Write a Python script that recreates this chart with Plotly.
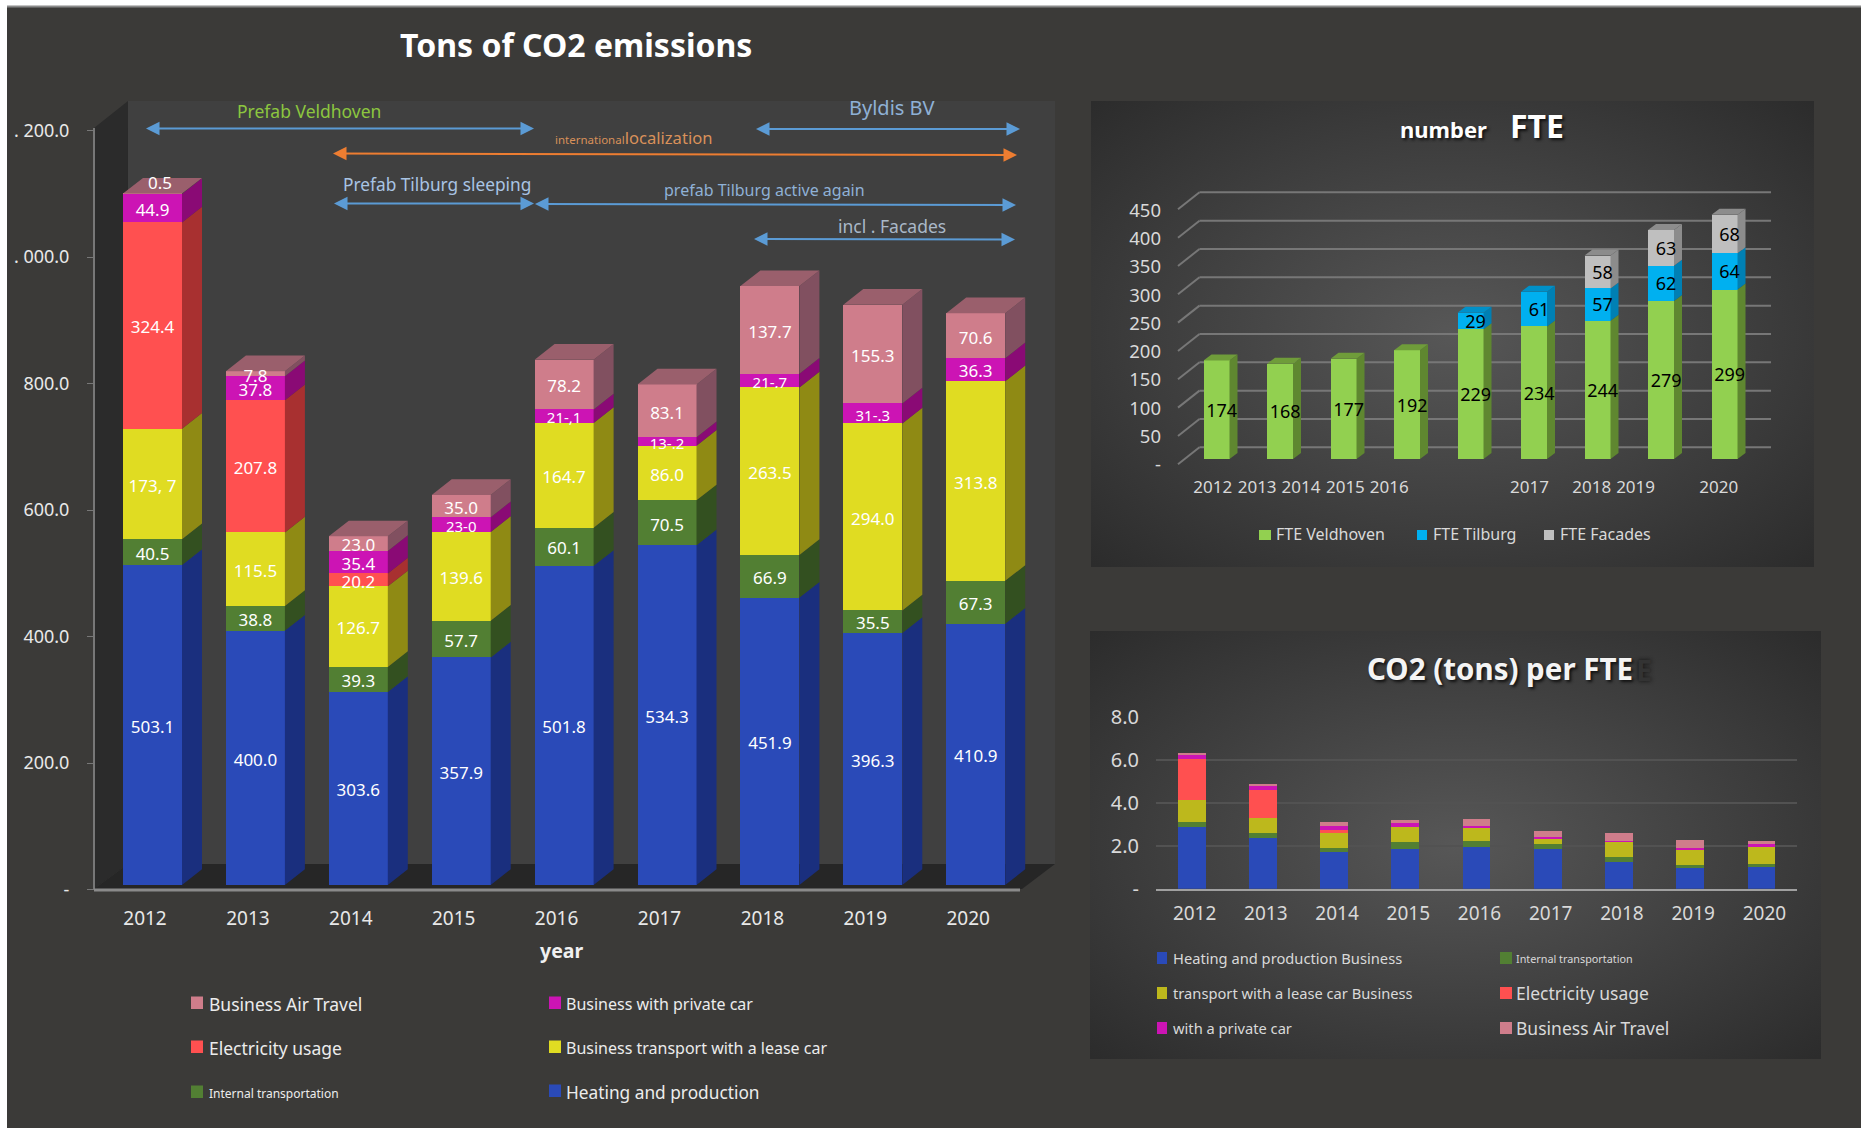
import base64
import plotly.graph_objects as go

W, H = 1861, 1128
X = lambda p: p / W
Y = lambda p: 1 - p / H
FONT = "Noto Sans"

# ---------- data ----------
years = [2012, 2013, 2014, 2015, 2016, 2017, 2018, 2019, 2020]
heating = [503.1, 400.0, 303.6, 357.9, 501.8, 534.3, 451.9, 396.3, 410.9]
internal = [40.5, 38.8, 39.3, 57.7, 60.1, 70.5, 66.9, 35.5, 67.3]
lease = [173.7, 115.5, 126.7, 139.6, 164.7, 86.0, 263.5, 294.0, 313.8]
electricity = [324.4, 207.8, 20.2, 0, 0, 0, 0, 0, 0]
private_car = [44.9, 37.8, 35.4, 23.0, 21.1, 13.2, 21.7, 31.3, 36.3]
air_travel = [0.5, 7.8, 23.0, 35.0, 78.2, 83.1, 137.7, 155.3, 70.6]

heating_labels = ["503.1", "400.0", "303.6", "357.9", "501.8", "534.3", "451.9", "396.3", "410.9"]
internal_labels = ["40.5", "38.8", "39.3", "57.7", "60.1", "70.5", "66.9", "35.5", "67.3"]
lease_labels = ["173, 7", "115.5", "126.7", "139.6", "164.7", "86.0", "263.5", "294.0", "313.8"]
electricity_labels = ["324.4", "207.8", "20.2", "", "", "", "", "", ""]
private_labels = ["44.9", "37.8", "35.4", "23-0", "21-,1", "13-.2", "21-.7", "31-.3", "36.3"]
air_labels = ["", "7.8", "23.0", "35.0", "78.2", "83.1", "137.7", "155.3", "70.6"]

main_tick_vals = [0, 200, 400, 600, 800, 1000, 1200]
main_tick_text = ["-", "200.0", "400.0", "600.0", "800.0", ". 000.0", ". 200.0"]

fte_veldhoven = [174, 168, 177, 192, 229, 234, 244, 279, 299]
fte_tilburg = [0, 0, 0, 0, 29, 61, 57, 62, 64]
fte_facades = [0, 0, 0, 0, 0, 0, 58, 63, 68]
fte_tick_vals = [0, 50, 100, 150, 200, 250, 300, 350, 400, 450]
fte_tick_text = ["-", "50", "100", "150", "200", "250", "300", "350", "400", "450"]
fte_year_positions = [2011.94, 2012.64, 2013.33, 2014.03, 2014.72, 2016.93, 2017.91, 2018.6, 2019.91]

pf_heating = [2.89, 2.38, 1.69, 1.86, 1.92, 1.84, 1.24, 1.00, 1.00]
pf_internal = [0.23, 0.23, 0.22, 0.30, 0.30, 0.24, 0.22, 0.08, 0.16]
pf_lease = [1.00, 0.67, 0.72, 0.73, 0.62, 0.29, 0.73, 0.74, 0.82]
pf_electricity = [1.90, 1.29, 0.09, 0, 0, 0, 0, 0, 0]
pf_private = [0.23, 0.23, 0.20, 0.17, 0.08, 0.02, 0.01, 0.08, 0.08]
pf_air = [0.06, 0.09, 0.18, 0.15, 0.30, 0.30, 0.40, 0.36, 0.16]
pf_tick_vals = [0, 2, 4, 6, 8]
pf_tick_text = ["-", "2.0", "4.0", "6.0", "8.0"]

# ---------- colours ----------
C_HEAT, C_INT, C_LEASE, C_ELEC, C_PRIV, C_AIR = "#2a4ab8", "#527f33", "#e0dc22", "#ff5050", "#cc14b4", "#cf7d8b"
S_HEAT, S_INT, S_LEASE, S_ELEC, S_PRIV, S_AIR = "#1a2f7e", "#335020", "#8f8a14", "#a83030", "#8a0a75", "#815060"
T_AIR = "#9a5f6c"
BG = "#3b3a38"

fig = go.Figure()
shapes, annos, images = [], [], []


def rect(x0, y0, x1, y1, color, layer="below"):
    shapes.append(dict(type="rect", xref="paper", yref="paper", x0=X(x0), x1=X(x1), y0=Y(y0), y1=Y(y1),
                       fillcolor=color, line_width=0, layer=layer))


def poly(pts, color, layer="below"):
    path = "M " + " L ".join(f"{X(a):.5f} {Y(b):.5f}" for a, b in pts) + " Z"
    shapes.append(dict(type="path", xref="paper", yref="paper", path=path, fillcolor=color, line_width=0, layer=layer))


def line(x0, y0, x1, y1, color, width):
    shapes.append(dict(type="line", xref="paper", yref="paper", x0=X(x0), x1=X(x1), y0=Y(y0), y1=Y(y1),
                       line=dict(color=color, width=width), layer="below"))


def text(x, y, s, size, color="#ececec", bold=False, anchor="center", shadow=None):
    f = dict(family=FONT, size=size, color=color)
    if shadow:
        f["shadow"] = shadow
    annos.append(dict(xref="paper", yref="paper", x=X(x), y=Y(y), text=f"<b>{s}</b>" if bold else s,
                      showarrow=False, font=f, xanchor=anchor, yanchor="middle"))


def arrow(x0, y0, x1, y1, color="#5b9bd5"):
    annos.append(dict(xref="paper", yref="paper", x=X(x1), y=Y(y1), ax=x0 - x1, ay=y0 - y1, text=" ",
                      showarrow=True, arrowside="end+start", arrowhead=2, arrowsize=1.35, arrowwidth=2,
                      arrowcolor=color))


def panel(x0, y0, x1, y1, name):
    svg = (f'<svg xmlns="http://www.w3.org/2000/svg" width="{x1-x0}" height="{y1-y0}">'
           f'<defs><radialGradient id="{name}" cx="50%" cy="50%" r="70%">'
           '<stop offset="0%" stop-color="#575757"/><stop offset="100%" stop-color="#2c2c2c"/>'
           f'</radialGradient></defs><rect width="100%" height="100%" fill="url(#{name})"/></svg>')
    src = "data:image/svg+xml;base64," + base64.b64encode(svg.encode()).decode()
    images.append(dict(source=src, xref="paper", yref="paper", x=X(x0), y=Y(y0), sizex=X(x1 - x0),
                       sizey=(y1 - y0) / H, xanchor="left", yanchor="top", sizing="stretch", layer="below"))


def stacked(series, xa, ya, width, shift):
    for vals, name, color in series:
        fig.add_trace(go.Bar(x=years, y=vals, name=name, marker=dict(color=color, line_width=0), width=width,
                             offset=shift - width / 2, xaxis=xa, yaxis=ya, showlegend=False, hoverinfo="skip"))


def faces(series, side, top, xa, ya, width, shift, dx, dy):
    base = [0] * len(years)
    tops = [None] * len(years)
    for (vals, _, _), sc, tc in zip(series, side, top):
        xs, ys = [], []
        for i, yr in enumerate(years):
            if vals[i] <= 0:
                continue
            r = yr + shift + width / 2
            a, b = base[i], base[i] + vals[i]
            xs += [r, r + dx, r + dx, r, r, None]
            ys += [a, a + dy, b + dy, b, a, None]
            base[i] = b
            tops[i] = tc
        fig.add_trace(go.Scatter(x=xs, y=ys, mode="lines", fill="toself", fillcolor=sc, line_width=0,
                                 xaxis=xa, yaxis=ya, showlegend=False, hoverinfo="skip"))
    for tc in dict.fromkeys(t for t in tops if t):
        xs, ys = [], []
        for i, yr in enumerate(years):
            if tops[i] == tc:
                l, r, t = yr + shift - width / 2, yr + shift + width / 2, base[i]
                xs += [l, l + dx, r + dx, r, l, None]
                ys += [t, t + dy, t + dy, t, t, None]
        fig.add_trace(go.Scatter(x=xs, y=ys, mode="lines", fill="toself", fillcolor=tc, line_width=0,
                                 xaxis=xa, yaxis=ya, showlegend=False, hoverinfo="skip"))


def labels(series, texts, xa, ya, shift, color, size, drop):
    base = [0] * len(years)
    for (vals, _, _), tx in zip(series, texts):
        xs = [y + shift for y in years]
        ys = [b + v / 2 - drop for b, v in zip(base, vals)]
        sizes = [size - 2 if "-" in t else size for t in tx]
        fig.add_trace(go.Scatter(x=xs, y=ys, text=tx, mode="text", textposition="middle center",
                                 textfont=dict(family=FONT, size=sizes, color=color),
                                 xaxis=xa, yaxis=ya, showlegend=False, hoverinfo="skip"))
        base = [b + v for b, v in zip(base, vals)]


# ---------- page ----------
rect(0, 0, W, 6, "#ffffff")
rect(0, 0, 7, H, "#ffffff")
rect(7, 5.5, W, 7.5, "#8a8a8a")

# ---------- main chart ----------
px_per_year = 102.9
x0_px = 145.0
main_x = lambda p: 2012 + (p - x0_px) / px_per_year
main_scale = 0.636
poly([(94, 128), (128, 101), (128, 864), (94, 889)], "#2b2b2b")
rect(128, 101, 1055, 864, "#404040")
poly([(94, 889), (128, 864), (1055, 864), (1022, 889)], "#262626")
line(94, 128, 94, 890, "#777777", 2)
line(94, 890, 1020, 890, "#8a8a8a", 3)

main_series = [(heating, "Heating and production", C_HEAT), (internal, "Internal transportation", C_INT),
               (lease, "Business transport with a lease car", C_LEASE), (electricity, "Electricity usage", C_ELEC),
               (private_car, "Business with private car", C_PRIV), (air_travel, "Business Air Travel", C_AIR)]
bw, bs = 59 / px_per_year, 7.5 / px_per_year
stacked(main_series, "x", "y", bw, bs)
faces(main_series, [S_HEAT, S_INT, S_LEASE, S_ELEC, S_PRIV, S_AIR], ["#1a2f7e", "#335020", "#8f8a14", "#a83030", "#8a0a75", T_AIR],
      "x", "y", bw, bs, 20 / px_per_year, 15.7 / main_scale)
labels(main_series, [heating_labels, internal_labels, lease_labels, electricity_labels, private_labels, air_labels],
       "x", "y", bs, "#ffffff", 17, 3.5 / main_scale)
annos.append(dict(xref="x", yref="y", x=2012 + bs + 0.07, y=heating[0] + internal[0] + lease[0] + electricity[0] + private_car[0] + air_travel[0],
                  text="0.5", showarrow=False, yshift=11, font=dict(family=FONT, size=17, color="#ffffff")))
fig.add_trace(go.Scatter(x=[2012], y=[0], mode="markers", marker_opacity=0, xaxis="x", yaxis="y2", showlegend=False, hoverinfo="skip"))

text(576, 45, "Tons of CO2 emissions", 32, "#ffffff", True)
text(561, 950, "year", 19.5, "#f0f0f0", True)

text(309, 111, "Prefab Veldhoven", 17.5, "#8cc63f")
arrow(143, 128.6, 534, 128.6)
text(633, 137, "<span style='font-size:11.5px'>international</span>localization", 16.6, "#d9915a")
arrow(330, 153.5, 1017, 155, "#ed7d31")
text(892, 108, "Byldis BV", 20, "#8fb1d6")
arrow(753, 129, 1020, 129)
text(437, 184, "Prefab Tilburg sleeping", 17.3, "#a9c4e4")
arrow(331, 203.6, 534, 203.6)
text(764, 190, "prefab Tilburg active again", 16, "#8fb1d6")
arrow(532, 204, 1016, 205)
text(892, 226, "incl . Facades", 17.5, "#aab8c8")
arrow(751, 239, 1015, 239.5)

for (xs, ys, lab, size, col) in [
    (191, 1003, "Business Air Travel", 17.5, C_AIR), (191, 1047, "Electricity usage", 17.5, C_ELEC),
    (191, 1092, "Internal transportation", 12, C_INT), (549, 1003, "Business with private car", 16, C_PRIV),
    (549, 1047, "Business transport with a lease car", 16, C_LEASE), (549, 1091, "Heating and production", 17.3, C_HEAT)]:
    rect(xs, ys - 6.5, xs + 12, ys + 6, col)
    text(xs + (16 if xs == 191 else 15), ys + 1, lab, size, "#ececec", anchor="left")

# ---------- FTE panel ----------
panel(1091, 101, 1814, 567, "g1")
for i in range(10):
    yy = 447.3 - i * 28.33
    line(1199.5, yy, 1771, yy, "#777777", 2)
    line(1178, yy + 17, 1199.5, yy, "#777777", 2)
fte_series = [(fte_veldhoven, "FTE Veldhoven", "#92d050"), (fte_tilburg, "FTE Tilburg", "#00b0f0"), (fte_facades, "FTE Facades", "#bfbfbf")]
fw = 26 / 63.5
fscale = 0.5667
stacked(fte_series, "x3", "y3", fw, 0)
faces(fte_series, ["#5f8730", "#0080b4", "#8c8c8c"], ["#6f9c3a", "#0090c8", "#8c8c8c"], "x3", "y3", fw, 0, 8 / 63.5, 6 / fscale)
labels(fte_series, [[str(v) if v else "" for v in s] for s in (fte_veldhoven, fte_tilburg, fte_facades)], "x3", "y3", 0.08, "#000000", 18, 2.4 / fscale)
fig.add_trace(go.Scatter(x=[2012], y=[0], mode="markers", marker_opacity=0, xaxis="x3", yaxis="y4", showlegend=False, hoverinfo="skip"))
text(1443, 129, "number", 22, "#ffffff", True, shadow="2px 2px 3px #111")
text(1537, 126, "FTE", 32, "#ffffff", True, shadow="2px 2px 3px #111")
for sx, tx, col, lab in [(1259, 1274, "#92d050", "FTE Veldhoven"), (1417, 1431, "#00b0f0", "FTE Tilburg"), (1544, 1558, "#bfbfbf", "FTE Facades")]:
    rect(sx, 530, sx + (12 if sx == 1259 else 10), 540, col)
    text(tx, 534.5, lab, 16, "#d9d9d9", anchor="left")

# ---------- per-FTE panel ----------
panel(1090, 631, 1821, 1059, "g2")
pf_series = [(pf_heating, "Heating", C_HEAT), (pf_internal, "Internal", C_INT), (pf_lease, "Lease", "#bdb81c"),
             (pf_electricity, "Electricity", C_ELEC), (pf_private, "Private", C_PRIV), (pf_air, "Air", C_AIR)]
stacked(pf_series, "x5", "y5", 0.39, 0)
text(1644, 669, "E", 29, "#333333", True, shadow="0 0 4px #111")
text(1500, 668, "CO2 (tons) per FTE", 29.5, "#f4f4f4", True, shadow="2px 2px 3px #111")
for sx, tx, yy, lab, size, col, sw in [
    (1157, 1170.6, 958, "Heating and production Business", 14.7, C_HEAT, 10),
    (1157, 1170.6, 993, "transport with a lease car Business", 14.7, "#bdb81c", 10),
    (1157, 1170.6, 1028, "with a private car", 14.7, C_PRIV, 10),
    (1500, 1514, 958, "Internal transportation", 10.8, C_INT, 12),
    (1500, 1514, 993, "Electricity usage", 17.5, C_ELEC, 12),
    (1500, 1514, 1028, "Business Air Travel", 17.5, C_AIR, 12)]:
    rect(sx, yy - 6, sx + sw, yy + 6, col)
    text(tx, yy, lab, size, "#d9d9d9", anchor="left")

# ---------- axes ----------
tf = lambda s, c="#e8e8e8": dict(family=FONT, size=s, color=c)
hidden = dict(showgrid=False, zeroline=False, showline=False, showticklabels=False, ticks="", fixedrange=True)
main_xaxis = dict(domain=[X(94), X(1060)], range=[main_x(94), main_x(1060)], anchor="y", tickmode="array", tickvals=years,
                  ticktext=[str(y) for y in years], showgrid=False, zeroline=False, showline=False, ticks="",
                  tickfont=tf(19), ticklabelstandoff=20)
layout = dict(
    width=W, height=H, margin=dict(l=0, r=0, t=0, b=0, pad=0, autoexpand=False), paper_bgcolor=BG, plot_bgcolor="rgba(0,0,0,0)",
    barmode="stack", showlegend=False, font=dict(family=FONT),
    shapes=shapes, annotations=annos, images=images,
    xaxis=main_xaxis,
    yaxis=dict(hidden, domain=[Y(885), Y(90)], range=[0, (885 - 90) / main_scale], anchor="x"),
    yaxis2=dict(domain=[Y(889.6), Y(130.6)], range=[0, 1200], anchor="x", tickmode="array", tickvals=main_tick_vals,
                ticktext=main_tick_text, showgrid=False, zeroline=False, showline=False, ticks="outside", ticklen=6,
                tickcolor="#777777", tickfont=tf(18), ticklabelstandoff=14),
    xaxis3=dict(domain=[X(1178), X(1790)], range=[2012 + (1178 - 1216.5) / 63.5, 2012 + (1790 - 1216.5) / 63.5], anchor="y3",
                tickmode="array", tickvals=fte_year_positions, ticktext=[str(y) for y in years], showgrid=False,
                zeroline=False, showline=False, ticks="", tickfont=tf(17, "#d9d9d9"), ticklabelstandoff=16),
    yaxis3=dict(hidden, domain=[Y(459), Y(170)], range=[0, (459 - 170) / fscale], anchor="x3"),
    yaxis4=dict(domain=[Y(464.5), Y(210.5)], range=[0, 450], anchor="x3", tickmode="array", tickvals=fte_tick_vals,
                ticktext=fte_tick_text, showgrid=False, zeroline=False, showline=False, ticks="",
                tickfont=tf(18.5, "#d9d9d9"), ticklabelstandoff=16),
    xaxis5=dict(domain=[X(1156), X(1797)], range=[2011.5, 2020.5], anchor="y5", tickmode="array", tickvals=years,
                ticktext=[str(y) for y in years], showgrid=False, zeroline=False, showline=True, linecolor="#a0a0a0",
                linewidth=2, ticks="", tickfont=tf(19, "#d9d9d9"), ticklabelstandoff=6, ticklabelshift=3),
    yaxis5=dict(domain=[Y(888.7), Y(716.7)], range=[0, 8], anchor="x5", tickmode="array", tickvals=pf_tick_vals,
                ticktext=pf_tick_text, showgrid=True, gridcolor="#525252", gridwidth=2, zeroline=False,
                showline=False, ticks="", tickfont=tf(20, "#d9d9d9"), ticklabelstandoff=16),
)
fig.update_layout(**layout)
fig.write_html("out.html", config=dict(displayModeBar=False),
               post_script="document.body.style.margin='0';document.body.style.overflow='hidden';")
